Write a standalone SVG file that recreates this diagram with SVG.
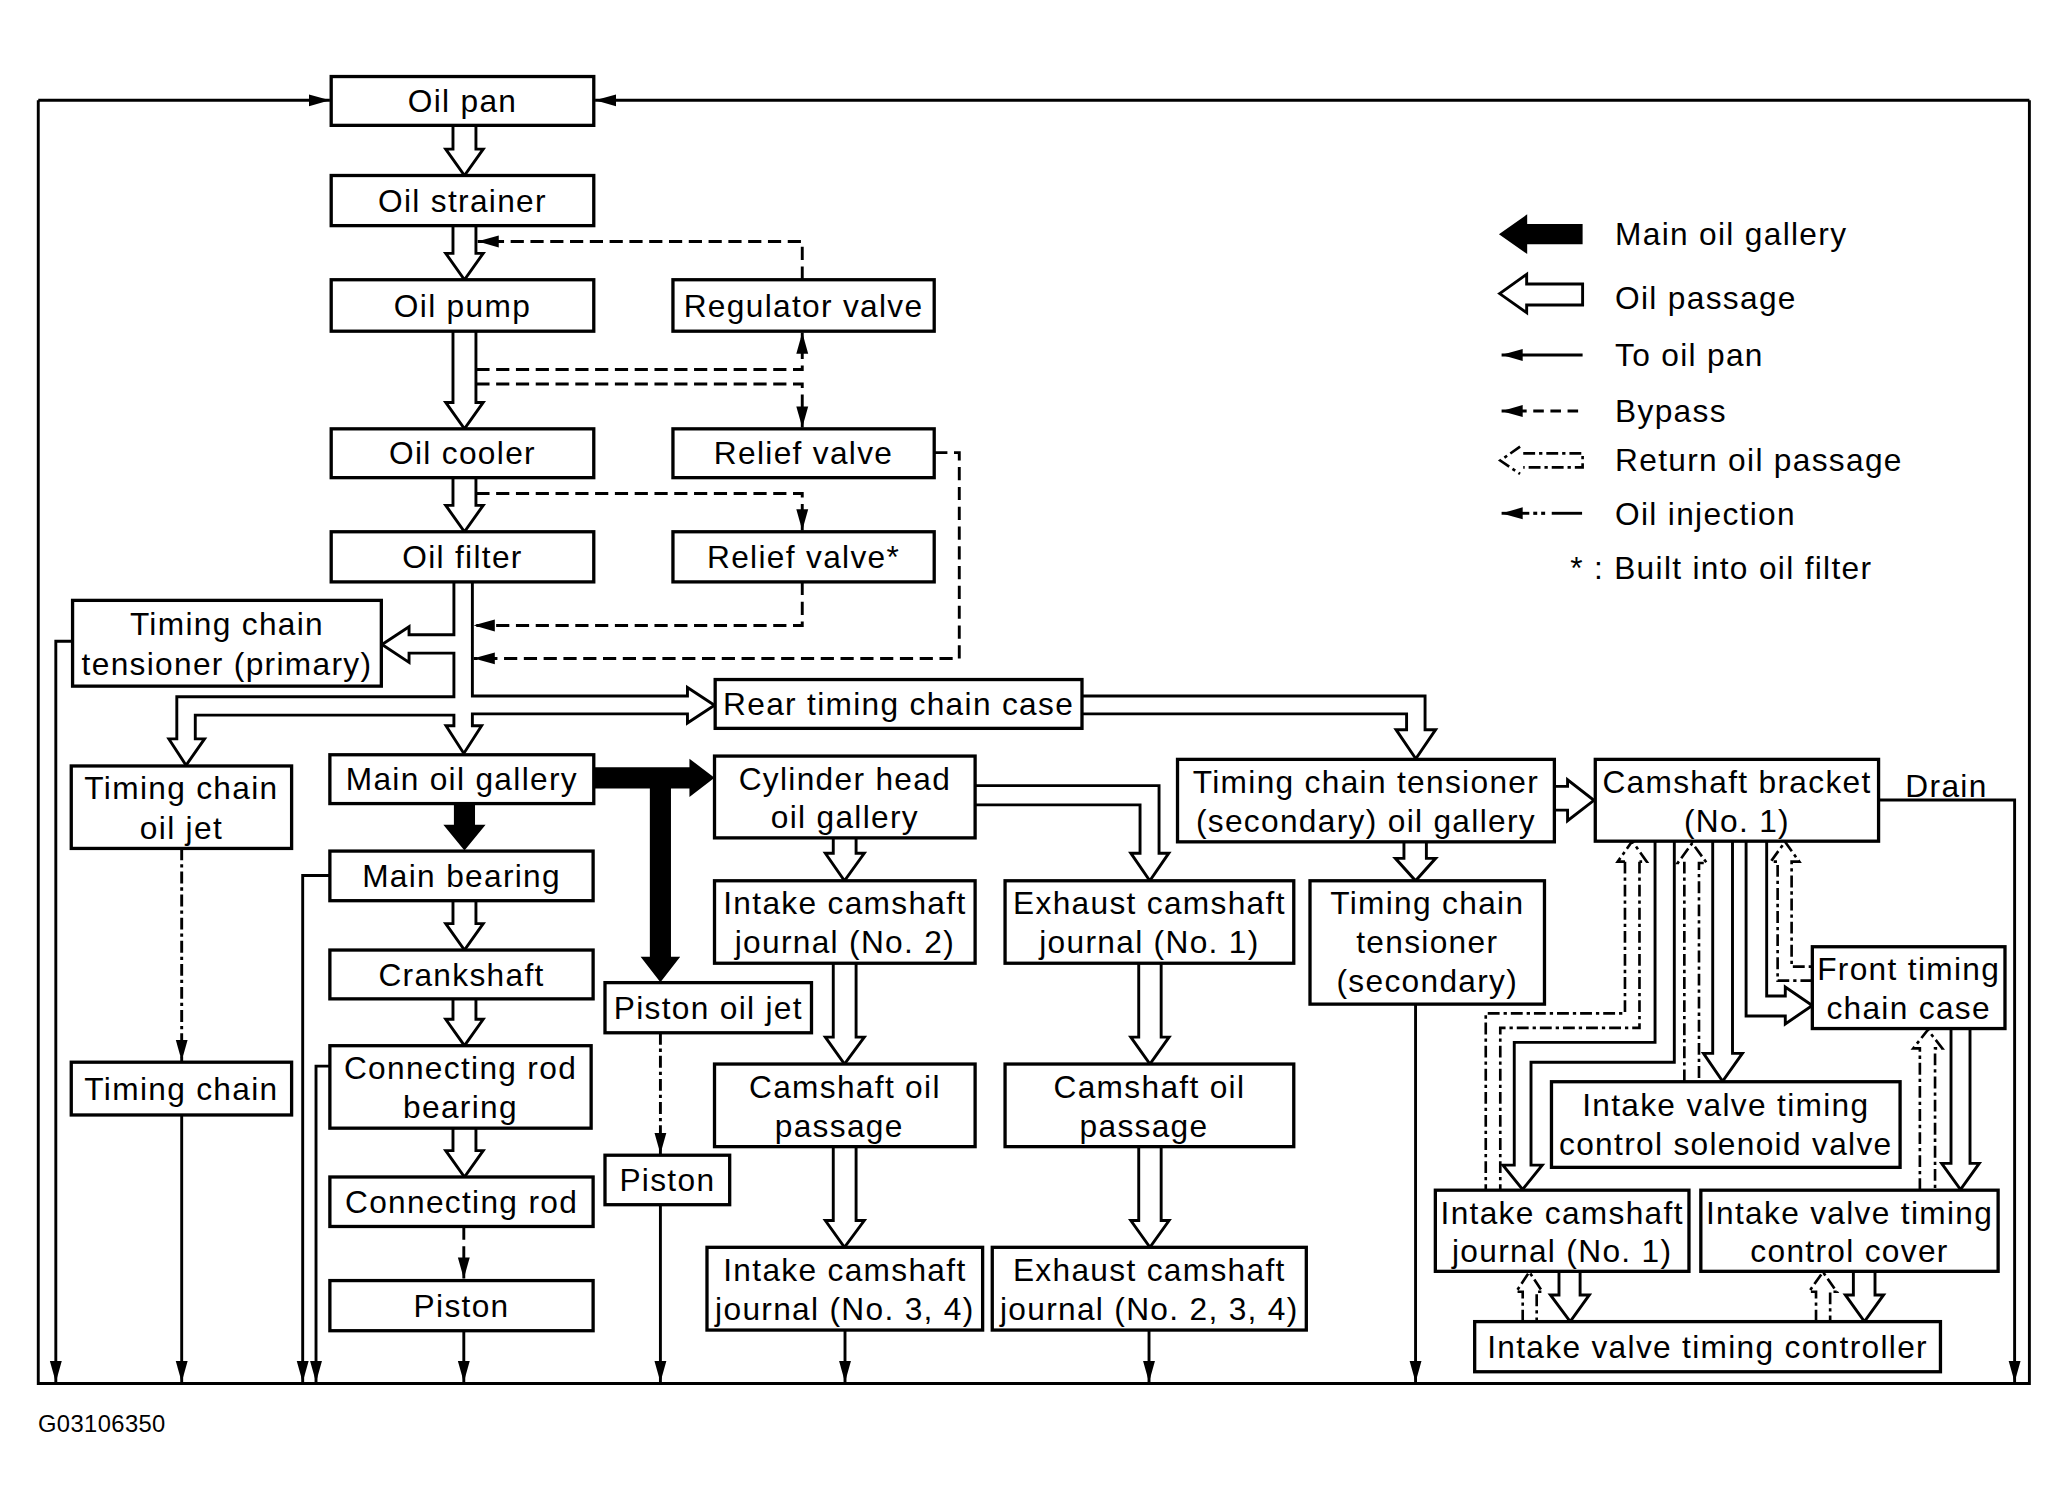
<svg xmlns="http://www.w3.org/2000/svg" width="2069" height="1505" viewBox="0 0 2069 1505">
<defs>
<style>
.box{fill:#fff;stroke:#000;stroke-width:2.5}
.t{font-family:"Liberation Sans",Arial,sans-serif;font-size:24px;letter-spacing:1px;text-anchor:middle;fill:#000}
.ts{font-family:"Liberation Sans",Arial,sans-serif;font-size:24px;letter-spacing:1px;fill:#000}
.ln{fill:none;stroke:#000;stroke-width:2.2}
.hol{fill:none;stroke:#000;stroke-width:2.2;stroke-linejoin:miter}
.holw{fill:#fff;stroke:#000;stroke-width:2.2}
.blk{fill:#000;stroke:none}
.dash{stroke-dasharray:10,5}
.dd{stroke-dasharray:9,3,2.5,3}
.ret{fill:none;stroke:#000;stroke-width:2;stroke-dasharray:9,3,2.5,3}
</style>
<marker id="ah" viewBox="-16 -5 16 10" refX="0" refY="0" markerWidth="16" markerHeight="10" markerUnits="userSpaceOnUse" orient="auto">
<path d="M0,0 L-16,-4.5 L-16,4.5 Z" fill="#000"/>
</marker>
</defs>
<rect x="0" y="0" width="2069" height="1505" fill="#fff"/>
<g transform="scale(1.3195)">
<g id="connectors">
<!-- outer frame -->
<path class="ln" d="M29,76 V1048.5 H1538 V76"/>
<path class="ln" d="M29,76 H250" marker-end="url(#ah)"/>
<path class="ln" d="M1538,76 H451" marker-end="url(#ah)"/>
<!-- main column hollow arrows -->
<path class="hol" d="M343.3,95 V113 H337.8 L352,133 L366.2,113 H360.7 V95"/>
<path class="hol" d="M343.3,171 V192 H337.8 L352,212 L366.2,192 H360.7 V171"/>
<path class="hol" d="M343.3,251 V305 H337.8 L352,325 L366.2,305 H360.7 V251"/>
<path class="hol" d="M343.3,362 V383 H337.8 L352,403 L366.2,383 H360.7 V362"/>
<!-- bypass dashed -->
<path class="ln dash" d="M608,212 V183 H362" marker-end="url(#ah)"/>
<path class="ln dash" d="M361,280 H608 V252" marker-end="url(#ah)"/>
<path class="ln dash" d="M361,291 H608 V324" marker-end="url(#ah)"/>
<path class="ln dash" d="M708,343 H727 V499 H359" marker-end="url(#ah)"/>
<path class="ln dash" d="M361,374 H608 V402" marker-end="url(#ah)"/>
<path class="ln dash" d="M608,441 V474 H359" marker-end="url(#ah)"/>
<!-- oil filter distribution channel -->
<path class="hol" d="M344,441 V481 H310 V475 L289.5,488.5 L310,502 V495 H344 V528 H134 V560 H128 L141,580 L155,560 H148 V542 H344 V550 H338 L351.5,571 L365,550 H358 V541 H521 V548 L541.5,534.5 L521,521 V527.5 H358 V441"/>
<!-- rear timing chain case to tensioner secondary gallery -->
<path class="hol" d="M820,527.5 H1080 V553 H1088 L1073,575 L1058,553 H1066 V541 H820"/>
<!-- main oil gallery black arrows -->
<polygon class="blk" points="344,609 344,625 336,625 352,644.5 368,625 360,625 360,609"/>
<polygon class="blk" points="450,581.5 522.5,581.5 522.5,575 541.5,589.5 522.5,604 522.5,597.5 508.5,597.5 508.5,725 515.5,725 500.5,744.5 485.5,725 492.5,725 492.5,597.5 450,597.5"/>
<!-- crank train -->
<path class="hol" d="M343.3,682.6 V700 H337.8 L352,720 L366.2,700 H360.7 V682.6"/>
<path class="hol" d="M343.3,757 V772.5 H337.8 L352,792.5 L366.2,772.5 H360.7 V757"/>
<path class="hol" d="M343.3,855 V872 H337.8 L352,892 L366.2,872 H360.7 V855"/>
<path class="ln dash" d="M351.5,929.5 V969" marker-end="url(#ah)"/>
<path class="ln" d="M351.5,1008.5 V1047.5" marker-end="url(#ah)"/>
<path class="ln" d="M250,663.5 H229.4 V1047.5" marker-end="url(#ah)"/>
<path class="ln" d="M250,808 H239.5 V1047.5" marker-end="url(#ah)"/>
<!-- left side -->
<path class="ln" d="M55,486 H42.3 V1047.5" marker-end="url(#ah)"/>
<path class="ln dd" d="M137.7,643 V804" marker-end="url(#ah)"/>
<path class="ln" d="M137.7,845 V1047.5" marker-end="url(#ah)"/>
<!-- piston oil jet -->
<path class="ln dd" d="M500.5,782.7 V874.5" marker-end="url(#ah)"/>
<path class="ln" d="M500.5,913 V1047.5" marker-end="url(#ah)"/>
<!-- cylinder head branch -->
<path class="hol" d="M631.5,635 V646.7 H625.5 L640,667.5 L655,646.7 H648.8 V635"/>
<path class="hol" d="M739,595.4 H878.4 V646.6 H885.8 L871.4,667.5 L857,646.6 H864 V610 H739"/>
<path class="hol" d="M631.5,730 V786 H625.5 L640,806.4 L655,786 H648.8 V730"/>
<path class="hol" d="M863,730 V786 H857 L871.5,806.4 L886,786 H880 V730"/>
<path class="hol" d="M631.5,869 V925 H625.5 L640,945.3 L655,925 H648.8 V869"/>
<path class="hol" d="M863,869 V925 H857 L871.5,945.3 L886,925 H880 V869"/>
<path class="ln" d="M640.4,1008 V1047.5" marker-end="url(#ah)"/>
<path class="ln" d="M870.8,1008 V1047.5" marker-end="url(#ah)"/>
<!-- tensioner secondary -->
<path class="hol" d="M1064,638 V650.5 H1057.5 L1072.8,667.5 L1088,650.5 H1081 V638"/>
<path class="ln" d="M1072.8,761 V1047.5" marker-end="url(#ah)"/>
<path class="hol" d="M1178,596 H1188 V591 L1208,606.5 L1188,622 V614 H1178"/>
<!-- drain -->
<path class="ln" d="M1423.7,606.3 H1526.8 V1047.5" marker-end="url(#ah)"/>
<!-- camshaft bracket distribution -->
<path class="ret" d="M1231.5,653 V768 H1126 V902 M1242.5,653 V779 H1137 V902 M1231.5,653 H1226 L1237,637.5 L1248,653 H1242.5"/>
<path class="hol" d="M1254.3,637.5 V790 H1147.6 V883 H1139 L1153.9,901.5 L1168.8,883 H1160.3 V805 H1268.9 V637.5"/>
<path class="ret" d="M1276.5,819.5 V654 H1271.5 L1282.5,639 L1293.5,654 H1287.6 V819.5"/>
<path class="hol" d="M1298,637.5 V798.3 H1291 L1305.5,819.5 L1320.5,798.3 H1313 V637.5"/>
<path class="hol" d="M1323.3,637.5 V770 H1353 V776 L1373.5,762 L1353,748 V754.8 H1338.9 V637.5"/>
<path class="ret" d="M1373.5,743.2 H1347.2 V653 H1342 L1352.8,638 L1363.6,653 H1357.8 V732.6 H1373.5"/>
<path class="hol" d="M1478.6,779.5 V881.7 H1471.5 L1485.8,901.5 L1500,881.7 H1493 V779.5"/>
<path class="ret" d="M1455,902 V794.5 H1450 L1461,780.5 L1472,794.5 H1466.5 V902"/>
<path class="ret" d="M1154,1001.6 V979 H1149 L1159,964 L1169,979 H1164.6 V1001.6"/>
<path class="hol" d="M1181.5,963.5 V981.4 H1175 L1190,1001.6 L1204.5,981.4 H1197.5 V963.5"/>
<path class="ret" d="M1376.3,1001.6 V979 H1371 L1381.5,964 L1392,979 H1387 V1001.6"/>
<path class="hol" d="M1404.6,963.5 V981.4 H1398.5 L1413,1001.6 L1427.5,981.4 H1421 V963.5"/>
</g>
<g id="n-oilpan"><rect class="box" x="251" y="58" width="199" height="37"/><text class="t" x="350.5" y="85">Oil pan</text></g>
<g id="n-strainer"><rect class="box" x="251" y="133" width="199" height="38"/><text class="t" x="350.5" y="160.5">Oil strainer</text></g>
<g id="n-pump"><rect class="box" x="251" y="212" width="199" height="39"/><text class="t" x="350.5" y="240">Oil pump</text></g>
<g id="n-regulator"><rect class="box" x="510" y="212" width="198" height="39"/><text class="t" x="609" y="240">Regulator valve</text></g>
<g id="n-cooler"><rect class="box" x="251" y="325" width="199" height="37"/><text class="t" x="350.5" y="352">Oil cooler</text></g>
<g id="n-relief"><rect class="box" x="510" y="325" width="198" height="37"/><text class="t" x="609" y="352">Relief valve</text></g>
<g id="n-filter"><rect class="box" x="251" y="403" width="199" height="38"/><text class="t" x="350.5" y="430.5">Oil filter</text></g>
<g id="n-relief2"><rect class="box" x="510" y="403" width="198" height="38"/><text class="t" x="609" y="430.5">Relief valve*</text></g>
<g id="n-tcp"><rect class="box" x="55" y="455" width="234" height="65"/><text class="t" x="172" y="481.5">Timing chain</text><text class="t" x="172" y="511.5">tensioner (primary)</text></g>
<g id="n-rear"><rect class="box" x="542" y="515" width="278" height="37"/><text class="t" x="681" y="542">Rear timing chain case</text></g>
<g id="n-tcoj"><rect class="box" x="54" y="580.5" width="167" height="62.5"/><text class="t" x="137.5" y="605.5">Timing chain</text><text class="t" x="137.5" y="635.5">oil jet</text></g>
<g id="n-mog"><rect class="box" x="250" y="572" width="200" height="37"/><text class="t" x="350" y="599">Main oil gallery</text></g>
<g id="n-chog"><rect class="box" x="541.5" y="573" width="197.5" height="62"/><text class="t" x="640.3" y="598.5">Cylinder head</text><text class="t" x="640.3" y="627.5">oil gallery</text></g>
<g id="n-tcsog"><rect class="box" x="892.4" y="575.5" width="285.6" height="62.5"/><text class="t" x="1035.2" y="601">Timing chain tensioner</text><text class="t" x="1035.2" y="630.5">(secondary) oil gallery</text></g>
<g id="n-bracket"><rect class="box" x="1209" y="575.5" width="214.7" height="62"/><text class="t" x="1316.4" y="601">Camshaft bracket</text><text class="t" x="1316.4" y="630.5">(No. 1)</text></g>
<g id="n-drain"><text class="ts" x="1444" y="604">Drain</text></g>
<g id="n-mainbearing"><rect class="box" x="250" y="645" width="199.5" height="37.6"/><text class="t" x="349.8" y="672.3">Main bearing</text></g>
<g id="n-icj2"><rect class="box" x="541.5" y="667.5" width="197.5" height="62.5"/><text class="t" x="640.3" y="693">Intake camshaft</text><text class="t" x="640.3" y="722.5">journal (No. 2)</text></g>
<g id="n-ecj1"><rect class="box" x="761.7" y="667.5" width="218.8" height="62.5"/><text class="t" x="871.1" y="693">Exhaust camshaft</text><text class="t" x="871.1" y="722.5">journal (No. 1)</text></g>
<g id="n-tcs"><rect class="box" x="992.8" y="667.5" width="177.7" height="93.5"/><text class="t" x="1081.7" y="692.5">Timing chain</text><text class="t" x="1081.7" y="722">tensioner</text><text class="t" x="1081.7" y="751.5">(secondary)</text></g>
<g id="n-front"><rect class="box" x="1373.5" y="717.5" width="146" height="62"/><text class="t" x="1446.5" y="743">Front timing</text><text class="t" x="1446.5" y="772.5">chain case</text></g>
<g id="n-crank"><rect class="box" x="250" y="720" width="199.5" height="37"/><text class="t" x="349.8" y="747">Crankshaft</text></g>
<g id="n-pistonjet"><rect class="box" x="458.5" y="744.7" width="156.5" height="38"/><text class="t" x="536.8" y="772.2">Piston oil jet</text></g>
<g id="n-crb"><rect class="box" x="250" y="792.5" width="198" height="62.5"/><text class="t" x="349" y="818">Connecting rod</text><text class="t" x="349" y="847.5">bearing</text></g>
<g id="n-tc"><rect class="box" x="54" y="805" width="167" height="40"/><text class="t" x="137.5" y="833.5">Timing chain</text></g>
<g id="n-cop1"><rect class="box" x="541.5" y="806.4" width="197.5" height="62.6"/><text class="t" x="640.3" y="832">Camshaft oil</text><text class="t" x="636" y="861.5">passage</text></g>
<g id="n-cop2"><rect class="box" x="761.7" y="806.4" width="218.8" height="62.6"/><text class="t" x="871.1" y="832">Camshaft oil</text><text class="t" x="867" y="861.5">passage</text></g>
<g id="n-solenoid"><rect class="box" x="1175.8" y="819.8" width="264.2" height="64.9"/><text class="t" x="1307.9" y="845.5">Intake valve timing</text><text class="t" x="1307.9" y="875">control solenoid valve</text></g>
<g id="n-piston2"><rect class="box" x="458.5" y="875.5" width="94.5" height="37.5"/><text class="t" x="505.8" y="902.8">Piston</text></g>
<g id="n-conrod"><rect class="box" x="250" y="892" width="199.5" height="37.5"/><text class="t" x="349.8" y="919.3">Connecting rod</text></g>
<g id="n-icj1"><rect class="box" x="1087.8" y="902" width="192.2" height="61.5"/><text class="t" x="1183.9" y="927.5">Intake camshaft</text><text class="t" x="1183.9" y="956.5">journal (No. 1)</text></g>
<g id="n-cover"><rect class="box" x="1289" y="902" width="225.3" height="61.5"/><text class="t" x="1401.7" y="927.5">Intake valve timing</text><text class="t" x="1401.7" y="956.5">control cover</text></g>
<g id="n-icj34"><rect class="box" x="535.8" y="945.3" width="208.9" height="62.7"/><text class="t" x="640.3" y="971">Intake camshaft</text><text class="t" x="640.3" y="1000">journal (No. 3, 4)</text></g>
<g id="n-ecj234"><rect class="box" x="752" y="945.3" width="238" height="62.7"/><text class="t" x="871" y="971">Exhaust camshaft</text><text class="t" x="871" y="1000">journal (No. 2, 3, 4)</text></g>
<g id="n-piston"><rect class="box" x="250" y="970.5" width="199.5" height="38"/><text class="t" x="349.8" y="998">Piston</text></g>
<g id="n-controller"><rect class="box" x="1117.6" y="1001.6" width="353" height="38"/><text class="t" x="1294.1" y="1029">Intake valve timing controller</text></g>
<g id="legend">
<polygon class="blk" points="1136,177.5 1157.4,162.4 1157.4,169.8 1199.4,169.8 1199.4,185.2 1157.4,185.2 1157.4,192.5"/>
<text class="ts" x="1224" y="186">Main oil gallery</text>
<polygon class="holw" points="1136.5,222.5 1157,207.9 1157,215.2 1199.4,215.2 1199.4,231.2 1157,231.2 1157,237"/>
<text class="ts" x="1224" y="234.5">Oil passage</text>
<path class="ln" d="M1199.4,269 H1138" marker-end="url(#ah)"/>
<text class="ts" x="1224" y="277">To oil pan</text>
<path class="ln" d="M1196,311.5 H1138" stroke-dasharray="8,5" marker-end="url(#ah)"/>
<text class="ts" x="1224" y="320">Bypass</text>
<path class="ret" d="M1152,338.5 L1137,349 L1152,359.2 M1154.4,343.6 H1199.4 V354.2 H1154.4"/>
<text class="ts" x="1224" y="357">Return oil passage</text>
<path class="ln" d="M1159,389 H1138" marker-end="url(#ah)"/>
<rect x="1162" y="387.8" width="3" height="2.4"/>
<rect x="1168" y="387.8" width="3" height="2.4"/>
<path class="ln" d="M1176,389 H1199"/>
<text class="ts" x="1224" y="397.5">Oil injection</text>
<text class="ts" x="1190" y="439">* : Built into oil filter</text>
</g>
<g id="label"><text x="28.8" y="1085" style="font-family:'Liberation Sans',Arial,sans-serif;font-size:18px;letter-spacing:0.3px">G03106350</text></g>
</g>
</svg>
